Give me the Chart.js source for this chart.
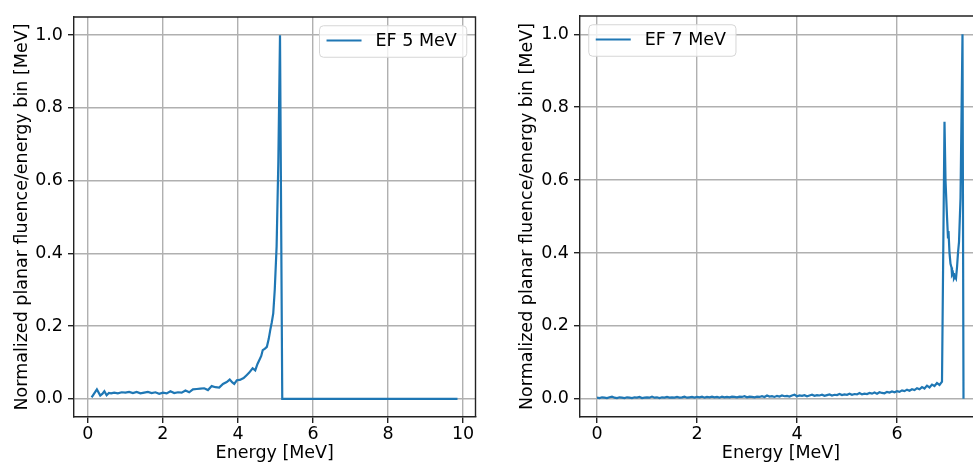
<!DOCTYPE html>
<html>
<head>
<meta charset="utf-8">
<title>EF 5 MeV / EF 7 MeV spectra</title>
<script src="https://cdn.jsdelivr.net/npm/chart.js@4.4.1/dist/chart.umd.min.js"></script>
<style>
    html, body { margin: 0; padding: 0; background: #fff; overflow: hidden; }
    #wrap { position: relative; width: 973px; height: 464px; overflow: hidden; }
    #Chart1 { position: absolute; left: 0; top: 0; }
    #Chart2 { position: absolute; left: 486px; top: 0; }
</style>
</head>
<body>
<div id="wrap">
    <canvas id="Chart1" width="486" height="464"></canvas>
    <canvas id="Chart2" width="510" height="464"></canvas>
</div>
<script>
// EF 5 MeV spectrum (energy in MeV, normalized fluence per bin)
const energy5 = [0.10, 0.24, 0.33, 0.39, 0.44, 0.50, 0.56, 0.62, 0.70, 0.80,
    0.90, 1.00, 1.10, 1.20, 1.30, 1.40, 1.50, 1.60, 1.70, 1.80,
    1.90, 2.00, 2.10, 2.20, 2.30, 2.40, 2.50, 2.60, 2.70, 2.80,
    2.90, 3.00, 3.10, 3.20, 3.30, 3.40, 3.50, 3.60, 3.70, 3.78,
    3.85, 3.90, 3.97, 4.05, 4.15, 4.23, 4.30, 4.39, 4.46, 4.52,
    4.57, 4.62, 4.66, 4.72, 4.77, 4.82, 4.86, 4.90, 4.94, 4.98,
    5.03, 5.075, 5.12, 5.18, 9.85];
const fluence5 = [0.004, 0.026, 0.009, 0.014, 0.021, 0.010, 0.016, 0.015, 0.017, 0.015,
    0.018, 0.017, 0.019, 0.016, 0.019, 0.015, 0.017, 0.019, 0.016, 0.018,
    0.014, 0.017, 0.015, 0.021, 0.016, 0.018, 0.017, 0.023, 0.018, 0.026,
    0.027, 0.028, 0.029, 0.024, 0.035, 0.032, 0.031, 0.041, 0.046, 0.053,
    0.045, 0.041, 0.051, 0.052, 0.057, 0.065, 0.072, 0.084, 0.078, 0.096,
    0.107, 0.118, 0.134, 0.138, 0.143, 0.165, 0.189, 0.210, 0.235, 0.300,
    0.420, 0.650, 1.000, 0.000, 0.000];

// EF 7 MeV spectrum
const energy7 = [0.00, 0.05, 0.10, 0.15, 0.20, 0.25, 0.30, 0.35, 0.40, 0.45,
    0.50, 0.55, 0.60, 0.65, 0.70, 0.75, 0.80, 0.85, 0.90, 0.95,
    1.00, 1.05, 1.10, 1.15, 1.20, 1.25, 1.30, 1.35, 1.40, 1.45,
    1.50, 1.55, 1.60, 1.65, 1.70, 1.75, 1.80, 1.85, 1.90, 1.95,
    2.00, 2.05, 2.10, 2.15, 2.20, 2.25, 2.30, 2.35, 2.40, 2.45,
    2.50, 2.55, 2.60, 2.65, 2.70, 2.75, 2.80, 2.85, 2.90, 2.95,
    3.00, 3.05, 3.10, 3.15, 3.20, 3.25, 3.30, 3.35, 3.40, 3.45,
    3.50, 3.55, 3.60, 3.65, 3.70, 3.75, 3.80, 3.85, 3.90, 3.95,
    4.00, 4.05, 4.10, 4.15, 4.20, 4.25, 4.30, 4.35, 4.40, 4.45,
    4.50, 4.55, 4.60, 4.65, 4.70, 4.75, 4.80, 4.85, 4.90, 4.95,
    5.00, 5.05, 5.10, 5.15, 5.20, 5.25, 5.30, 5.35, 5.40, 5.45,
    5.50, 5.55, 5.60, 5.65, 5.70, 5.75, 5.80, 5.85, 5.90, 5.95,
    6.00, 6.05, 6.10, 6.15, 6.20, 6.25, 6.30, 6.35, 6.40, 6.45,
    6.50, 6.55, 6.60, 6.65, 6.70, 6.75, 6.80, 6.85, 6.90,
    6.95, 6.97, 7.00, 7.02, 7.03, 7.05, 7.07, 7.09, 7.10, 7.12,
    7.14, 7.16, 7.18, 7.20, 7.22, 7.24, 7.27, 7.31, 7.33];
const fluence7 = [0.003, 0.002, 0.004, 0.003, 0.002, 0.004, 0.006, 0.003, 0.002, 0.004,
    0.003, 0.002, 0.004, 0.003, 0.002, 0.004, 0.003, 0.005, 0.002, 0.003,
    0.004, 0.003, 0.006, 0.003, 0.004, 0.002, 0.004, 0.003, 0.005, 0.003,
    0.004, 0.003, 0.005, 0.003, 0.004, 0.006, 0.003, 0.004, 0.005, 0.003,
    0.005, 0.004, 0.006, 0.003, 0.005, 0.004, 0.006, 0.004, 0.005, 0.003,
    0.006, 0.004, 0.005, 0.004, 0.006, 0.005, 0.004, 0.006, 0.005, 0.007,
    0.004, 0.006, 0.005, 0.004, 0.006, 0.005, 0.007, 0.005, 0.009, 0.006,
    0.007, 0.005, 0.008, 0.006, 0.009, 0.007, 0.008, 0.006, 0.009, 0.011,
    0.007, 0.009, 0.008, 0.010, 0.007, 0.009, 0.011, 0.008, 0.010, 0.009,
    0.011, 0.008, 0.010, 0.012, 0.009, 0.011, 0.010, 0.013, 0.010, 0.012,
    0.011, 0.014, 0.011, 0.013, 0.012, 0.016, 0.012, 0.014, 0.013, 0.016,
    0.014, 0.017, 0.014, 0.018, 0.016, 0.015, 0.019, 0.017, 0.020, 0.018,
    0.021, 0.019, 0.023, 0.021, 0.025, 0.022, 0.026, 0.024, 0.029, 0.026,
    0.032, 0.028, 0.036, 0.031, 0.039, 0.035, 0.043, 0.038, 0.047,
    0.760, 0.600, 0.500, 0.440, 0.460, 0.400, 0.370, 0.360, 0.340, 0.345,
    0.330, 0.335, 0.330, 0.360, 0.400, 0.430, 0.550, 1.000, 0.000];

const ticks5 = [0, 2, 4, 6, 8, 10];
const ticks7 = [0, 2, 4, 6];
const fluenceTicks = [0, 0.2, 0.4, 0.6, 0.8, 1.0];

const FONT_SIZE = 17.5;
const LINE_COLOR = '#1f77b4';
const SPINE_COLOR = '#222';

Chart.defaults.font.family = "'DejaVu Sans', sans-serif";
Chart.defaults.font.size = FONT_SIZE;
Chart.defaults.color = '#000';

// top/right frame lines plus a matplotlib-like legend box
const frameLegend = {
    id: 'frameLegend',
    afterDatasetsDraw(chart, args, opts) {
        const ctx = chart.ctx;
        const a = chart.chartArea;
        ctx.save();
        ctx.strokeStyle = SPINE_COLOR;
        ctx.lineWidth = 1.4;
        ctx.beginPath();
        ctx.moveTo(a.left, a.top);
        ctx.lineTo(a.right, a.top);
        ctx.lineTo(a.right, a.bottom);
        ctx.stroke();

        const fs = FONT_SIZE;
        const label = chart.data.datasets[0].label;
        ctx.font = fs + "px 'DejaVu Sans', sans-serif";
        const tw = ctx.measureText(label).width;
        const w = 3.6 * fs + tw + 3;
        const h = 1.8 * fs;
        const x = opts.loc === 'right' ? a.right - 0.5 * fs - w : a.left + 0.5 * fs;
        const y = a.top + 0.5 * fs;
        const r = 4;

        ctx.beginPath();
        ctx.moveTo(x + r, y);
        ctx.lineTo(x + w - r, y);
        ctx.arcTo(x + w, y, x + w, y + r, r);
        ctx.lineTo(x + w, y + h - r);
        ctx.arcTo(x + w, y + h, x + w - r, y + h, r);
        ctx.lineTo(x + r, y + h);
        ctx.arcTo(x, y + h, x, y + h - r, r);
        ctx.lineTo(x, y + r);
        ctx.arcTo(x, y, x + r, y, r);
        ctx.closePath();
        ctx.fillStyle = 'rgba(255,255,255,0.8)';
        ctx.fill();
        ctx.strokeStyle = '#d6d6d6';
        ctx.lineWidth = 1;
        ctx.stroke();

        const cy = y + h / 2 - 1;
        ctx.strokeStyle = LINE_COLOR;
        ctx.lineWidth = 2.2;
        ctx.beginPath();
        ctx.moveTo(x + 0.4 * fs, cy);
        ctx.lineTo(x + 2.4 * fs, cy);
        ctx.stroke();

        ctx.fillStyle = '#000';
        ctx.textBaseline = 'middle';
        ctx.textAlign = 'left';
        ctx.fillText(label, x + 3.2 * fs, cy + 1);
        ctx.restore();
    }
};

function createSpectrumChart(canvasId, energies, values, label, xTicks, layout) {
    const points = energies.map((e, i) => ({x: e, y: values[i]}));
    const ctx = document.getElementById(canvasId).getContext('2d');
    return new Chart(ctx, {
        type: 'line',
        data: {
            datasets: [{
                    label: label,
                    data: points,
                    borderColor: LINE_COLOR,
                    borderWidth: 2.2,
                    pointRadius: 0,
                    tension: 0,
                    fill: false
                }]
        },
        options: {
            responsive: false,
            animation: false,
            devicePixelRatio: 1,
            layout: {padding: {top: layout.top, right: layout.right, left: 0, bottom: 0}},
            plugins: {
                legend: {display: false},
                tooltip: {enabled: false},
                frameLegend: {loc: layout.legend}
            },
            scales: {
                x: {
                    type: 'linear',
                    min: layout.xMin,
                    max: layout.xMax,
                    afterBuildTicks: s => { s.ticks = xTicks.map(v => ({value: v})); },
                    afterFit: s => {
                        s.height = 47;
                        s.paddingLeft = 0; s.paddingRight = 0;
                    },
                    ticks: {padding: 1, maxRotation: 0, autoSkip: false, callback: v => String(v)},
                    grid: {color: '#b0b0b0', lineWidth: 1.4, tickColor: SPINE_COLOR, tickLength: 6},
                    border: {display: true, color: SPINE_COLOR, width: 1.4},
                    title: {display: true, text: 'Energy [MeV]', padding: {top: 0, bottom: 0}}
                },
                y: {
                    type: 'linear',
                    min: -0.05,
                    max: 1.05,
                    afterBuildTicks: s => { s.ticks = fluenceTicks.map(v => ({value: v})); },
                    afterFit: s => {
                        s.width = layout.yWidth;
                        s.paddingTop = 0; s.paddingBottom = 0;
                    },
                    ticks: {padding: 5, autoSkip: false, callback: v => v.toFixed(1)},
                    grid: {color: '#b0b0b0', lineWidth: 1.4, tickColor: SPINE_COLOR, tickLength: 6},
                    border: {display: true, color: SPINE_COLOR, width: 1.4},
                    title: {
                        display: true,
                        text: 'Normalized planar fluence/energy bin [MeV]',
                        padding: {top: layout.titlePad, bottom: 0}
                    }
                }
            }
        },
        plugins: [frameLegend]
    });
}

window.onload = function () {
    createSpectrumChart('Chart1', energy5, fluence5, 'EF 5 MeV', ticks5,
            {xMin: -0.37, xMax: 10.33, top: 17, right: 10.5, yWidth: 74, titlePad: 12, legend: 'right'});
    createSpectrumChart('Chart2', energy7, fluence7, 'EF 7 MeV', ticks7,
            {xMin: -0.34, xMax: 7.7, top: 16, right: 14, yWidth: 94, titlePad: 31, legend: 'left'});
};
</script>
</body>
</html>
